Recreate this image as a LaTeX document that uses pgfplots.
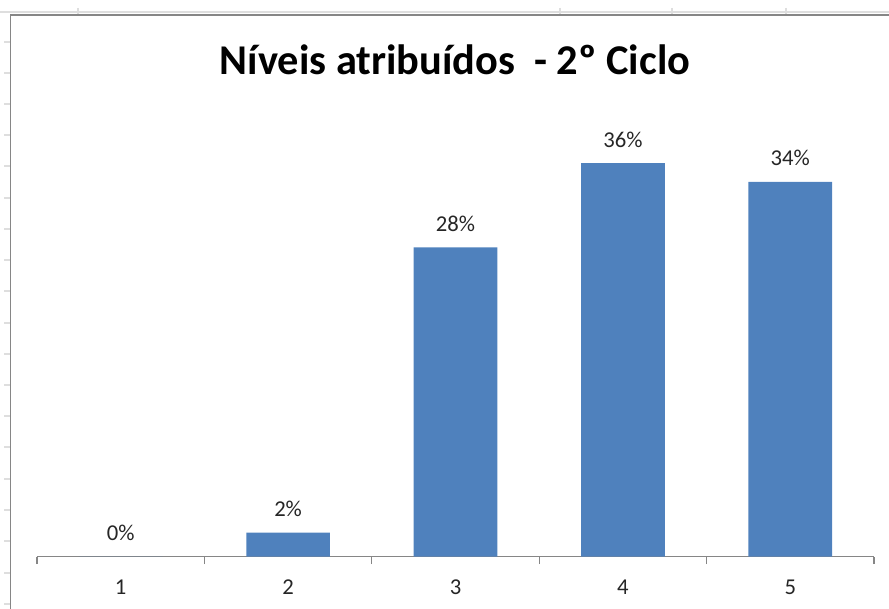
\documentclass[border=0pt]{standalone}
\usepackage{pgfplots}
\pgfplotsset{compat=1.18}
\usepackage{fontspec}
\setmainfont{Carlito}
\definecolor{barblue}{RGB}{79,129,189}
\definecolor{axgray}{RGB}{134,134,134}
\definecolor{gridgray}{RGB}{222,222,222}
\begin{document}
\begin{tikzpicture}[x=0.75pt,y=0.75pt]
\useasboundingbox (0,0) rectangle (889,608);
% spreadsheet gridlines peeking out
\draw[gridgray, line width=1.5pt] (0,608-12) -- (889,608-12);
\foreach \xx in {78,560,672,786} \draw[gridgray, line width=0.8pt] (\xx,608-8) -- (\xx,608-14);
\foreach \yy in {42,73,104,135,166,198,229,260,291,323,354,385,416,447,479,510,541,573,604}
  \draw[gridgray, line width=0.8pt] (4,608-\yy) -- (10,608-\yy);
% chart frame
\draw[axgray, line width=1.1pt] (10.5,-5) -- (10.5,608-15) -- (900,608-15);
% title
\node[anchor=base, font=\fontsize{31.8}{38}\selectfont\bfseries] at (455,608-75) {Níveis atribuídos\ \ - 2º Ciclo};
\begin{axis}[
  at={(27.75pt,38.5pt)}, anchor=south west,
  scale only axis,
  width=627.75pt, height=327.9pt,
  xmin=0.5, xmax=5.5, ymin=0, ymax=40,
  hide y axis,
  axis x line*=bottom,
  x axis line style={axgray, line width=0.9pt, -},
  xtick={1,2,3,4,5},
  xticklabels={1,2,3,4,5},
  major tick length=0pt,
  minor xtick={0.5,1.5,2.5,3.5,4.5,5.5},
  minor tick length=5.5pt,
  tick align=outside,
  minor tick style={axgray, line width=0.9pt},
  xticklabel style={anchor=base, yshift=-28.5pt, font=\fontsize{17}{20}\selectfont, text=black!85, inner sep=0pt},
  ybar, bar width=0.5,
  point meta=explicit symbolic,
  nodes near coords,
  every node near coord/.append style={anchor=base, yshift=12pt, inner sep=0pt, font=\fontsize{17}{20}\selectfont, text=black!85},
  clip=false,
]
\addplot[fill=barblue, draw=none] table[meta=lab] {
x y lab
1 0 0\%
2 2.2 2\%
3 28.3 28\%
4 36.0 36\%
5 34.3 34\%
};
\end{axis}
\end{tikzpicture}
\end{document}
